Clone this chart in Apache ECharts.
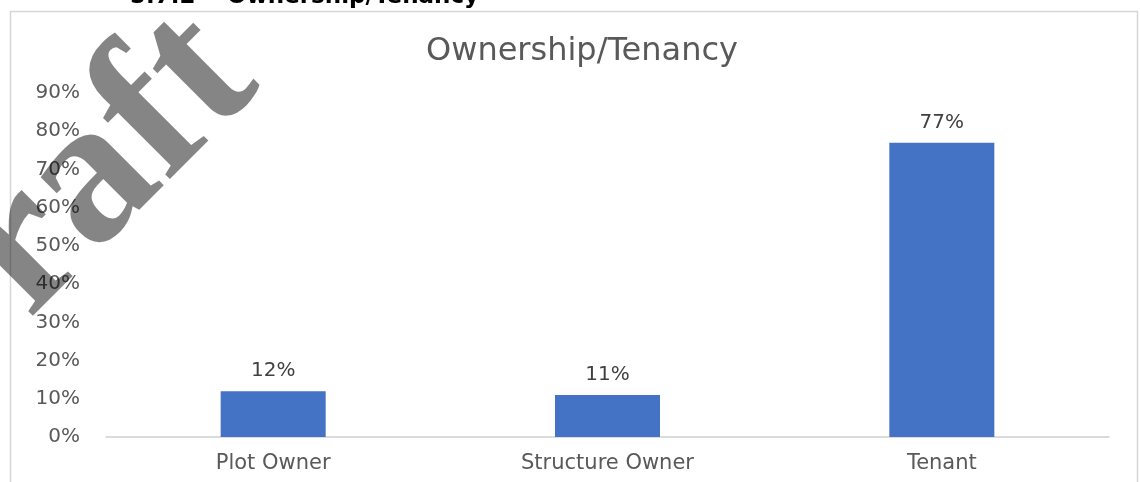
<!DOCTYPE html>
<html>
<head>
<meta charset="utf-8">
<script src="https://cdn.jsdelivr.net/npm/echarts@6/dist/echarts.min.js"></script>
<style>
html,body{margin:0;padding:0;background:#fff;}
#chart{width:1140px;height:482px;}
</style>
</head>
<body>
<div id="chart"></div>
<script>
// ---- data ----
const categories = ['Plot Owner', 'Structure Owner', 'Tenant'];
const shares = [12, 11, 77];           // percent
const yMin = 0, yMax = 90, yStep = 10;  // tick labels 0% ... 90%
const chartTitle = 'Ownership/Tenancy';
const sectionNumber = '5.7.2';
const sectionTitle = 'Ownership/Tenancy';
const watermarkText = 'Draft';

const chart = echarts.init(document.getElementById('chart'));
chart.setOption({
  backgroundColor: '#ffffff',
  animation: false,
  title: {
    text: chartTitle,
    left: 577,
    textAlign: 'center',
    top: 31,
    textStyle: { fontFamily: 'DejaVu Sans', fontSize: 32, fontWeight: 'normal', color: '#595959' }
  },
  grid: { left: 106, right: 31, top: 93, bottom: 45 },
  xAxis: {
    type: 'category',
    data: categories,
    axisLine: { lineStyle: { color: '#d0d0d0', width: 1.5 } },
    axisTick: { show: false },
    axisLabel: { margin: 16, fontFamily: 'DejaVu Sans', fontSize: 21, color: '#595959' }
  },
  yAxis: {
    type: 'value',
    min: yMin, max: yMax, interval: yStep,
    axisLine: { show: false },
    axisTick: { show: false },
    splitLine: { show: false },
    axisLabel: { margin: 26, formatter: '{value}%', fontFamily: 'DejaVu Sans', fontSize: 20, color: '#595959' }
  },
  series: [{
    type: 'bar',
    data: shares,
    barWidth: 105,
    itemStyle: { color: '#4472C4' },
    label: {
      show: true, position: 'top', distance: 10,
      formatter: '{c}%', fontFamily: 'DejaVu Sans', fontSize: 20, color: '#404040'
    }
  }],
  graphic: [
    {
      type: 'rect', z: 0, silent: true,
      shape: { x: 10.5, y: 11.5, width: 1127, height: 500 },
      style: { fill: 'none', stroke: '#d6d6d6', lineWidth: 1.5 }
    },
    {
      type: 'text', x: 130, y: 9, z: 10,
      style: { text: sectionNumber, fontFamily: 'DejaVu Sans', fontWeight: 'bold', fontSize: 23, fill: '#000', align: 'left', verticalAlign: 'bottom' }
    },
    {
      type: 'text', x: 227, y: 9, z: 10,
      style: { text: sectionTitle, fontFamily: 'DejaVu Sans', fontWeight: 'bold', fontSize: 23, fill: '#000', align: 'left', verticalAlign: 'bottom' }
    },
    {
      type: 'text', x: 56, y: 218, z: 100, rotation: Math.PI / 4, silent: true,
      style: { text: watermarkText, fontFamily: 'Liberation Serif', fontWeight: 'bold', fontSize: 205, fill: 'rgba(0,0,0,0.48)', align: 'center', verticalAlign: 'middle' }
    }
  ]
});
</script>
</body>
</html>
